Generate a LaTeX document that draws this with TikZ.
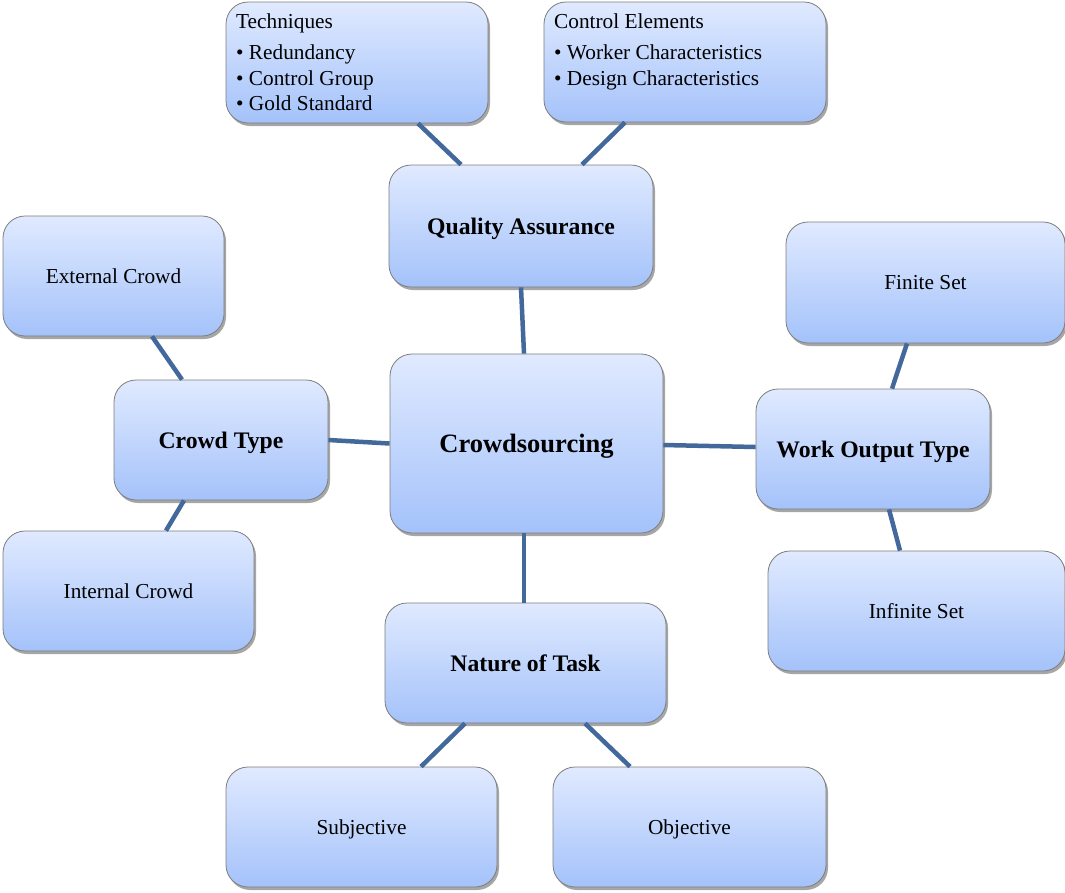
\documentclass[tikz,border=0pt]{standalone}
\usepackage{fontspec}
\setmainfont{Liberation Serif}
\usetikzlibrary{shadows}
\definecolor{boxtop}{RGB}{224,234,255}
\definecolor{boxbot}{RGB}{164,194,250}
\definecolor{boxline}{RGB}{125,125,125}
\definecolor{link}{RGB}{66,104,156}
\tikzset{
  box/.style={draw=boxline, line width=0.8pt, rounded corners=22pt,
    top color=boxtop, bottom color=boxbot, inner sep=0pt, text depth=0pt,
    drop shadow={shadow xshift=2pt, shadow yshift=-3pt, opacity=0.35, fill=black}},
  plain/.style={font=\fontsize{21.3}{25}\selectfont},
  heading/.style={font=\fontsize{23.7}{28}\selectfont\bfseries},
  listtxt/.style={font=\fontsize{21.3}{25}\selectfont, anchor=base west, inner sep=0pt},
  conn/.style={draw=link, line width=4.5pt}
}
\begin{document}
\begin{tikzpicture}[x=1pt,y=-1pt]
\useasboundingbox (0,0) rectangle (1065,892);
% boxes
\node[box, minimum width=262pt, minimum height=121pt] (tech) at (357,62.5) {};
\node[box, minimum width=282pt, minimum height=120pt] (ctrl) at (685,62) {};
\node[box, heading, minimum width=264pt, minimum height=122pt] (qa) at (521,226) {Quality Assurance};
\node[box, plain, minimum width=221pt, minimum height=120pt] (ext) at (113.5,276) {External Crowd};
\node[box, heading, minimum width=214pt, minimum height=120pt] (ct) at (221,440) {Crowd Type};
\node[box, font=\fontsize{26.5}{30}\selectfont\bfseries, minimum width=273pt, minimum height=179pt] (cs) at (526.5,443.5) {Crowdsourcing};
\node[box, plain, minimum width=279pt, minimum height=121pt] (fin) at (925.5,282.5) {Finite Set};
\node[box, heading, minimum width=234pt, minimum height=120pt] (wot) at (873,449) {Work Output Type};
\node[box, plain, minimum width=297pt, minimum height=120pt] (inf) at (916.5,611) {Infinite Set};
\node[box, plain, minimum width=251pt, minimum height=120pt] (int) at (128.5,591) {Internal Crowd};
\node[box, heading, minimum width=281pt, minimum height=120pt] (nat) at (525.5,663) {Nature of Task};
\node[box, plain, minimum width=271pt, minimum height=120pt] (subj) at (361.5,827) {Subjective};
\node[box, plain, minimum width=273pt, minimum height=120pt] (obj) at (689.5,827) {Objective};
% list texts
\node[listtxt] (t1) at (236,28) {Techniques};
\node[listtxt] (t2) at (236,59) {• Redundancy};
\node[listtxt] (t3) at (236,85) {• Control Group};
\node[listtxt] (t4) at (236,110) {• Gold Standard};
\node[listtxt] (c1) at (554,28) {Control Elements};
\node[listtxt] (c2) at (554,59) {• Worker Characteristics};
\node[listtxt] (c3) at (554,85) {• Design Characteristics};
% connectors
\draw[conn] ([xshift=61pt]tech.south) -- ([xshift=-60pt]qa.north);
\draw[conn] ([xshift=-60pt]ctrl.south) -- ([xshift=61pt]qa.north);
\draw[conn] (qa.south) -- ([xshift=-2.5pt]cs.north);
\draw[conn] ([xshift=38.5pt]ext.south) -- ([xshift=-39pt]ct.north);
\draw[conn] (ct.east) -- (cs.west);
\draw[conn] ([xshift=-37pt]ct.south) -- ([xshift=37.5pt]int.north);
\draw[conn] ([yshift=-1.5pt]cs.east) -- ([yshift=2pt]wot.west);
\draw[conn] ([xshift=-18.5pt]fin.south) -- ([xshift=19pt]wot.north);
\draw[conn] ([xshift=16pt]wot.south) -- ([xshift=-16.5pt]inf.north);
\draw[conn] ([xshift=-2.5pt]cs.south) -- ([xshift=-1.5pt]nat.north);
\draw[conn] ([xshift=-60.5pt]nat.south) -- ([xshift=59.5pt]subj.north);
\draw[conn] ([xshift=59.5pt]nat.south) -- ([xshift=-59.5pt]obj.north);
\end{tikzpicture}
\end{document}
